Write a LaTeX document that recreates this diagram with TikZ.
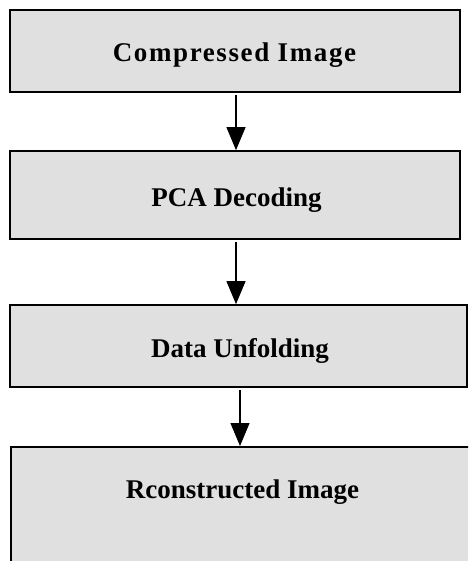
\documentclass[tikz,border=0pt]{standalone}
\usepackage{fontspec}
\setmainfont{Liberation Serif}
\usetikzlibrary{arrows.meta}
\begin{document}
\begin{tikzpicture}[x=1pt,y=-1pt,
  box/.style={draw=black,fill=boxgray,line width=1.7pt,inner sep=0pt},
  lbl/.style={font=\fontsize{27}{30}\selectfont\bfseries,inner sep=0pt},
  arr/.style={line width=1.1pt,-{Triangle[width=19pt,length=23pt]}}]
\definecolor{boxgray}{HTML}{E0E0E0}
\useasboundingbox (0,0) rectangle (468,561);
\clip (0,0) rectangle (468,561);
\node[box,minimum width=450pt,minimum height=82pt] (b1) at (235,51) {};
\node[lbl] (t1) at (234.5,55.5) {\addfontfeature{LetterSpace=6}Compressed Image};
\node[box,minimum width=450pt,minimum height=88pt] (b2) at (235,195) {};
\node[lbl] (t2) at (236.5,200.5) {PCA Decoding};
\node[box,minimum width=457pt,minimum height=82pt] (b3) at (238.5,346) {};
\node[lbl] (t3) at (240,350.5) {Data Unfolding};
\node[box,minimum width=480pt,minimum height=150pt,anchor=north west] (b4) at (10,446) {};
\node[lbl] (t4) at (242.5,492.5) {Rconstructed Image};
\draw[arr] ([xshift=1pt,yshift=-2pt]b1.south) -- ([xshift=1pt]b2.north);
\draw[arr] ([xshift=1pt,yshift=-2pt]b2.south) -- ([xshift=1pt]b2.south |- b3.north);
\draw[arr] ([xshift=1.5pt,yshift=-2pt]b3.south) -- ([xshift=1.5pt]b3.south |- b4.north);
\end{tikzpicture}
\end{document}
